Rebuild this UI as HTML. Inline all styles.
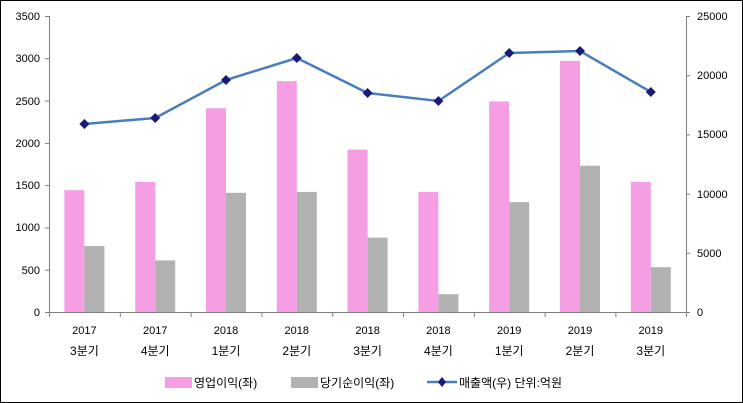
<!DOCTYPE html><html><head><meta charset="utf-8"><style>
body{margin:0;background:#fff}
svg{display:block;font-family:"Liberation Sans","Noto Sans CJK KR",sans-serif}
</style></head><body>
<svg width="743" height="403" viewBox="0 0 743 403">
<rect x="0.5" y="0.5" width="742" height="402" fill="#fff" stroke="#000"/>
<g fill="#f59ee4">
<rect x="64.4" y="190.2" width="20" height="121.8"/>
<rect x="135.2" y="181.8" width="20" height="130.2"/>
<rect x="206" y="108.2" width="20" height="203.8"/>
<rect x="276.8" y="81.1" width="20" height="230.9"/>
<rect x="347.6" y="149.6" width="20" height="162.4"/>
<rect x="418.4" y="191.9" width="20" height="120.1"/>
<rect x="489.2" y="101.4" width="20" height="210.6"/>
<rect x="560" y="60.8" width="20" height="251.2"/>
<rect x="630.8" y="181.8" width="20" height="130.2"/>
</g>
<g fill="#b2b2b2">
<rect x="84.4" y="246" width="20" height="66"/>
<rect x="155.2" y="260.4" width="20" height="51.6"/>
<rect x="226" y="192.8" width="20" height="119.2"/>
<rect x="296.8" y="191.9" width="20" height="120.1"/>
<rect x="367.6" y="237.6" width="20" height="74.4"/>
<rect x="438.4" y="294.2" width="20" height="17.8"/>
<rect x="509.2" y="202.1" width="20" height="109.9"/>
<rect x="580" y="165.7" width="20" height="146.3"/>
<rect x="650.8" y="267.2" width="20" height="44.8"/>
</g>
<g stroke="#808080" stroke-width="1" fill="none">
<line x1="49.5" y1="16" x2="49.5" y2="312"/>
<line x1="686.5" y1="16" x2="686.5" y2="312"/>
<line x1="49" y1="312.5" x2="686" y2="312.5"/>
<path d="M45 312.5h4M45 270.2h4M45 227.9h4M45 185.6h4M45 143.4h4M45 101.1h4M45 58.8h4M45 16.5h4"/>
<path d="M686 312.5h4M686 253.3h4M686 194.1h4M686 134.9h4M686 75.7h4M686 16.5h4"/>
<path d="M49.5 312v5M120.3 312v5M191.1 312v5M261.9 312v5M332.7 312v5M403.5 312v5M474.3 312v5M545.1 312v5M615.9 312v5M686.5 312v5"/>
</g>
<g font-size="11" text-anchor="end">
<text x="40" y="316">0</text><text x="40" y="274">500</text><text x="40" y="231">1000</text><text x="40" y="189">1500</text><text x="40" y="147">2000</text><text x="40" y="105">2500</text><text x="40" y="62">3000</text><text x="40" y="20">3500</text>
</g>
<g font-size="11">
<text x="697" y="316">0</text><text x="697" y="257">5000</text><text x="697" y="198">10000</text><text x="697" y="138">15000</text><text x="697" y="79">20000</text><text x="697" y="20">25000</text>
</g>
<g font-size="11" text-anchor="middle">
<text x="84.4" y="334">2017</text><text x="155.2" y="334">2017</text><text x="226" y="334">2018</text><text x="296.8" y="334">2018</text><text x="367.6" y="334">2018</text><text x="438.4" y="334">2018</text><text x="509.2" y="334">2019</text><text x="580" y="334">2019</text><text x="650.8" y="334">2019</text>
</g>
<g font-size="12" text-anchor="middle">
<text x="84.4" y="355">3분기</text><text x="155.2" y="355">4분기</text><text x="226" y="355">1분기</text><text x="296.8" y="355">2분기</text><text x="367.6" y="355">3분기</text><text x="438.4" y="355">4분기</text><text x="509.2" y="355">1분기</text><text x="580" y="355">2분기</text><text x="650.8" y="355">3분기</text>
</g>
<polyline fill="none" stroke="#4a7ebb" stroke-width="2.5" points="84.4,124 155.2,118 226,80 296.8,58 367.6,93 438.4,101 509.2,53 580,51 650.8,92"/>
<g fill="#1a1a7a">
<polygon points="84.4,119 89.4,124 84.4,129 79.4,124"/>
<polygon points="155.2,113 160.2,118 155.2,123 150.2,118"/>
<polygon points="226,75 231,80 226,85 221,80"/>
<polygon points="296.8,53 301.8,58 296.8,63 291.8,58"/>
<polygon points="367.6,88 372.6,93 367.6,98 362.6,93"/>
<polygon points="438.4,96 443.4,101 438.4,106 433.4,101"/>
<polygon points="509.2,48 514.2,53 509.2,58 504.2,53"/>
<polygon points="580,46 585,51 580,56 575,51"/>
<polygon points="650.8,87 655.8,92 650.8,97 645.8,92"/>
</g>
<rect x="165" y="377" width="27" height="11" fill="#f59ee4"/><text x="194" y="387" font-size="12">영업이익(좌)</text>
<rect x="291" y="377" width="27" height="11" fill="#b2b2b2"/><text x="320" y="387" font-size="12">당기순이익(좌)</text>
<line x1="427" x2="457" y1="382" y2="382" stroke="#4a7ebb" stroke-width="2.5"/>
<polygon points="442,377 446,382 442,387 438,382" fill="#1a1a7a"/>
<text x="459" y="387" font-size="12">매출액(우)  단위:억원</text>
</svg></body></html>
